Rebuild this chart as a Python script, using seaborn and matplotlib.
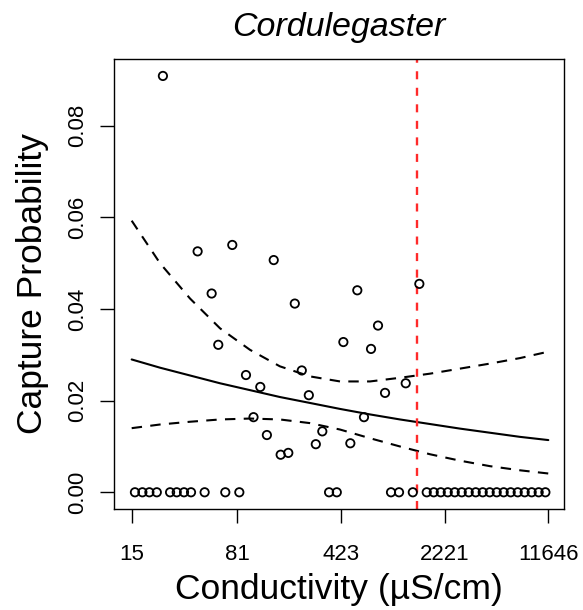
import numpy as np
import pandas as pd
import matplotlib
matplotlib.use("Agg")
import matplotlib.pyplot as plt
import seaborn as sns

# ---- data ----
zero_cond = [15.8, 17.8, 19.9, 22.4, 27.7, 30.8, 34.6, 38.7, 48.1, 66.9, 83.7,
             351, 397, 944, 1073, 1337, 1670, 1868, 2089, 2336, 2612, 2921,
             3266, 3652, 4084, 4566, 5106, 5709, 6384, 7139, 7982, 8926,
             9981, 11112]
pos_cond = [24.7, 43.0, 74.8, 145, 53.8, 203, 59.8, 93.1, 117, 227, 254, 105,
            130, 162, 183, 284, 315, 551, 1484, 767, 441, 686, 1194, 858, 613, 493]
pos_prob = [0.0909, 0.0526, 0.0540, 0.0507, 0.0434, 0.0412, 0.0322, 0.0256,
            0.0230, 0.0266, 0.0212, 0.0164, 0.0125, 0.0082, 0.0086, 0.0105,
            0.0133, 0.0441, 0.0455, 0.0364, 0.0328, 0.0313, 0.0238, 0.0217,
            0.0164, 0.0107]

curve_cond = [15.0, 23.6, 38.1, 61.5, 99.3, 160, 259, 418, 675, 1090, 1761,
              2842, 4589, 7406, 11646]
fit_prob = [0.0290, 0.0272, 0.0255, 0.0238, 0.0223, 0.0208, 0.0195, 0.0182,
            0.0170, 0.0159, 0.0149, 0.0139, 0.0130, 0.0121, 0.0114]
upper_prob = [0.0593, 0.0500, 0.0423, 0.0358, 0.0311, 0.0275, 0.0253, 0.0242,
              0.0242, 0.0250, 0.0259, 0.0270, 0.0281, 0.0293, 0.0307]
lower_prob = [0.0140, 0.0148, 0.0154, 0.0159, 0.0161, 0.0159, 0.0151, 0.0137,
              0.0118, 0.0100, 0.0083, 0.0069, 0.0057, 0.0048, 0.0041]

threshold = 1424
xtick_vals = [15, 81, 423, 2221, 11646]
xtick_labels = ["15", "81", "423", "2221", "11646"]
ytick_vals = [0.00, 0.02, 0.04, 0.06, 0.08]
ytick_labels = ["0.00", "0.02", "0.04", "0.06", "0.08"]

title = "Cordulegaster"
xlabel = "Conductivity (\u00b5S/cm)"
ylabel = "Capture Probability"

# ---- style ----
sns.set_theme(style="ticks")
plt.rcParams["font.family"] = ["Liberation Sans", "DejaVu Sans"]
plt.rcParams["axes.edgecolor"] = "black"

fig = plt.figure(figsize=(5.83, 6.10), dpi=100)
ax = fig.add_axes([114 / 583, 1 - 509 / 610, 449.5 / 583, 450 / 610])
ax.set_xscale("log")

obs = pd.DataFrame({
    "cond": zero_cond + pos_cond,
    "prob": [0.0] * len(zero_cond) + pos_prob,
})
curves = pd.DataFrame({
    "cond": curve_cond,
    "fit": fit_prob,
    "upper": upper_prob,
    "lower": lower_prob,
})

sns.lineplot(data=curves, x="cond", y="fit", ax=ax, color="black", lw=1.5,
             estimator=None, sort=True)
sns.lineplot(data=curves, x="cond", y="upper", ax=ax, color="black", lw=1.5,
             linestyle=(0, (5, 4)), estimator=None, sort=True)
sns.lineplot(data=curves, x="cond", y="lower", ax=ax, color="black", lw=1.5,
             linestyle=(0, (5, 4)), estimator=None, sort=True)
sns.scatterplot(data=obs, x="cond", y="prob", ax=ax, marker="o",
                facecolors="none", edgecolors="black", s=36, linewidth=1.3,
                zorder=3)
ax.axvline(threshold, color="#ff2a2a", lw=1.7, linestyle=(0, (3.4, 3.6)))

ax.set_xlim(11.31, 14840)
ax.set_ylim(-0.00365, 0.0946)

ax.minorticks_off()
ax.set_xticks(xtick_vals)
ax.set_xticklabels(xtick_labels)
ax.set_yticks(ytick_vals)
ax.set_yticklabels(ytick_labels)
ax.tick_params(axis="both", which="major", direction="out", length=10,
               width=1.0, color="black", labelsize=16, labelcolor="black")
ax.tick_params(axis="x", pad=26.5)
ax.tick_params(axis="y", pad=12.3)
for lab in ax.get_xticklabels():
    lab.set_va("baseline")
for lab in ax.get_yticklabels():
    lab.set_rotation(90)
    lab.set_rotation_mode("anchor")
    lab.set_ha("center")
    lab.set_va("baseline")

for sp in ax.spines.values():
    sp.set_color("black")
    sp.set_linewidth(1.0)
    sp.set_visible(True)

ax.set_xlabel(xlabel, fontsize=25.5, color="black")
ax.set_ylabel(ylabel, fontsize=25.5, color="black")
ax.xaxis.set_label_coords(0.5, (509 - 599) / 450)
ax.xaxis.label.set_va("baseline")
ax.yaxis.set_label_coords((41.7 - 114) / 449.5, 0.5)
ax.yaxis.label.set_rotation_mode("anchor")
ax.yaxis.label.set_va("baseline")
ax.yaxis.label.set_ha("center")

fig.text((114 + 563.5) / 2 / 583, 1 - 36 / 610, title, fontsize=24.5,
         fontstyle="italic", ha="center", va="baseline", color="black")

ax.grid(False)
fig.savefig("out.png", dpi=100)
